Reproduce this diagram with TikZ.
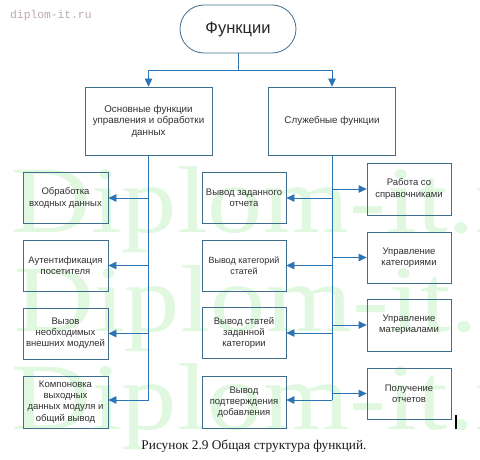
\documentclass[tikz,border=0pt]{standalone}
\usepackage{fontspec}
\setmainfont{Liberation Sans}
\newfontfamily\wmserif{Liberation Serif}
\newfontfamily\wmmono{Liberation Mono}
\usetikzlibrary{arrows.meta}
\definecolor{boxc}{HTML}{3F6E8C}
\definecolor{linec}{HTML}{2B74B5}
\definecolor{txt}{HTML}{303030}
\definecolor{wmc}{HTML}{E0F8E0}
\definecolor{sitec}{HTML}{BCA8AA}
\begin{document}
\begin{tikzpicture}[x=1pt,y=-1pt,
  basebox/.style={draw=boxc, line width=0.8pt, align=center, text=txt, inner sep=1pt},
  leaf/.style={basebox, minimum width=85pt, minimum height=51pt, font=\fontsize{9.5}{11.2}\selectfont},
  head/.style={basebox, minimum width=127pt, minimum height=68pt, font=\fontsize{9.8}{11.5}\selectfont},
  titlebox/.style={basebox, rounded corners=24pt, minimum width=116pt, minimum height=48pt, font=\fontsize{16.5}{18}\selectfont, text=black!85},
  ln/.style={draw=linec, line width=0.8pt},
  arr/.style={ln, -{Triangle[length=8pt,width=7.5pt]}, color=linec},
  wmark/.style={anchor=base west, text=wmc, inner sep=0pt, font=\wmserif\fontsize{95}{95}\selectfont}
]
\useasboundingbox (0,0) rectangle (480,460);
\clip (0,0) rectangle (480,460);
\fill[white] (0,0) rectangle (480,460);

% watermark
\node[wmark] (wm1) at (11,232) {\scalebox{1.165}[1]{Diplom-it.ru}};
\node[wmark] (wm2) at (14,331) {\scalebox{1.165}[1]{Diplom-it.ru}};
\node[wmark] (wm3) at (11,429) {\scalebox{1.165}[1]{Diplom-it.ru}};
\node[anchor=west, text=sitec, inner sep=0pt, font=\wmmono\fontsize{11.3}{12}\selectfont] (site) at (10,16) {diplom-it.ru};

% title and headers
\node[titlebox] (fun) at (238,29) {Функции};
\node[head] (L) at (148.5,121) {Основные функции\\управления и обработки\\данных};
\node[head] (R) at (332,121) {Служебные функции};

% left leaves
\node[leaf] (a1) at (65.5,198) {Обработка\\входных данных};
\node[leaf] (a2) at (65.5,265.5) {Аутентификация\\посетителя};
\node[leaf] (a3) at (65.5,333.5) {Вызов\\необходимых\\внешних модулей};
\node[leaf, minimum height=52pt] (a4) at (65.5,402) {Компоновка\\выходных\\данных модуля и\\общий вывод};

% middle leaves
\node[leaf, minimum width=84pt] (b1) at (244,198) {Вывод заданного\\отчета};
\node[leaf, minimum width=84pt, font=\fontsize{9}{11.2}\selectfont] (b2) at (244,265.5) {Вывод категорий\\статей};
\node[leaf, minimum width=84pt] (b3) at (244,333) {Вывод статей\\заданной\\категории};
\node[leaf, minimum width=84pt, minimum height=52pt] (b4) at (244,402) {Вывод\\подтверждения\\добавления};

% right leaves
\node[leaf, minimum width=84pt, minimum height=52pt] (c1) at (409,189) {Работа со\\справочниками};
\node[leaf, minimum width=84pt] (c2) at (409,257.5) {Управление\\категориями};
\node[leaf, minimum width=84pt, minimum height=52pt] (c3) at (409,325) {Управление\\материалами};
\node[leaf, minimum width=84pt] (c4) at (409,393.5) {Получение\\отчетов};

% connectors
\coordinate (j) at (238,70);
\draw[ln] (fun.south) -- (j);
\draw[arr] (j) -| (L.north);
\draw[arr] (j) -| (R.north);

\coordinate (lend) at (148.5,400);
\draw[ln] (L.south) -- (lend);
\draw[arr] (L.south |- a1.east) -- (a1.east);
\draw[arr] (L.south |- a2.east) -- (a2.east);
\draw[arr] (L.south |- a3.east) -- (a3.east);
\draw[arr] (lend) -- (lend -| a4.east);

\coordinate (rend) at (332,400);
\draw[ln] (R.south) -- (rend);
\draw[arr] (R.south |- b1.east) -- (b1.east);
\draw[arr] (R.south |- b2.east) -- (b2.east);
\draw[arr] (R.south |- b3.east) -- (b3.east);
\draw[arr] (rend) -- (rend -| b4.east);
\draw[arr] (R.south |- c1.west) -- (c1.west);
\draw[arr] (R.south |- c2.west) -- (c2.west);
\draw[arr] (R.south |- c3.west) -- (c3.west);
\draw[arr] (R.south |- c4.west) -- (c4.west);

% caption
\node[anchor=base, inner sep=0pt, text=black!90, font=\wmserif\fontsize{13.3}{14}\selectfont] (cap) at (254,449) {Рисунок 2.9 Общая структура функций.};

% text cursor
\draw[black, line width=1.1pt] (456,415) -- (456,429);
\end{tikzpicture}
\end{document}
